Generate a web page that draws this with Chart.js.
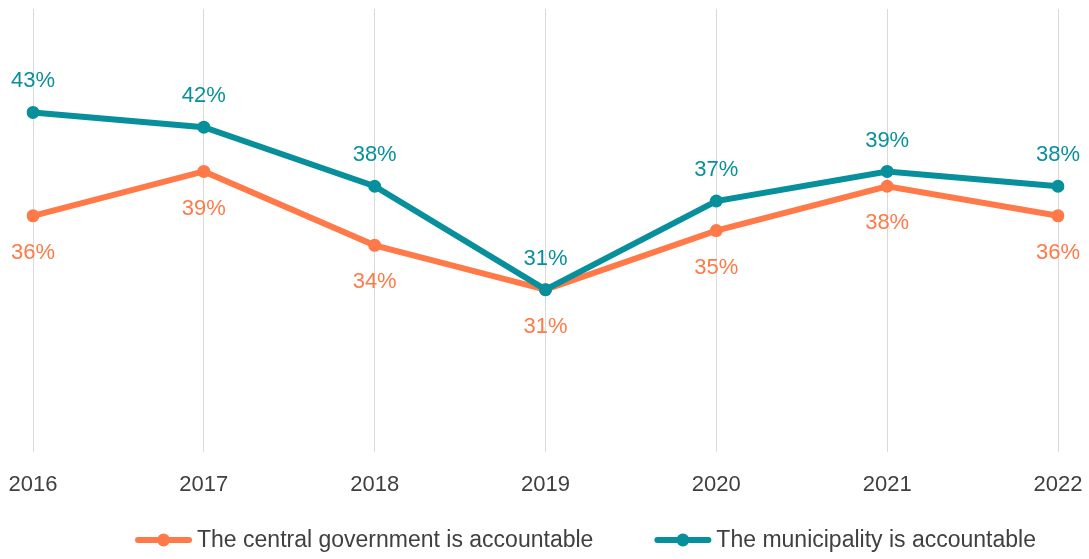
<!DOCTYPE html>
<html>
<head>
<meta charset="utf-8">
<script src="https://cdn.jsdelivr.net/npm/chart.js@4.4.1/dist/chart.umd.min.js"></script>
<style>
  html, body { margin: 0; padding: 0; background: #ffffff; }
  #wrap { width: 1089px; height: 559px; }
</style>
</head>
<body>
<div id="wrap"><canvas id="chart" width="1089" height="559"></canvas></div>
<script>
// Survey years and share of respondents (%) per answer
const years = ['2016', '2017', '2018', '2019', '2020', '2021', '2022'];
const centralGovernment = [36, 39, 34, 31, 35, 38, 36];
const municipality = [43, 42, 38, 31, 37, 39, 38];
const seriesNames = ['The central government is accountable', 'The municipality is accountable'];

const ORANGE = '#FF7A48';
const TEAL = '#07909C';
const TEXT = '#404040';
const FONT = '"Liberation Sans", Arial, Helvetica, sans-serif';

// Percentage labels next to every point (above or below, per dataset)
const valueLabels = {
  id: 'valueLabels',
  afterDatasetsDraw(chart) {
    const ctx = chart.ctx;
    ctx.save();
    ctx.font = '22px ' + FONT;
    ctx.textAlign = 'center';
    ctx.textBaseline = 'middle';
    chart.data.datasets.forEach((ds, i) => {
      const meta = chart.getDatasetMeta(i);
      ctx.fillStyle = ds.borderColor;
      meta.data.forEach((pt, j) => {
        ctx.fillText(ds.data[j] + '%', pt.x, pt.y + ds.labelOffset);
      });
    });
    ctx.restore();
  }
};

// Legend with a line-and-dot marker in front of each series name
const lineLegend = {
  id: 'lineLegend',
  afterDraw(chart, args, opts) {
    const ctx = chart.ctx;
    ctx.save();
    ctx.font = opts.fontSize + 'px ' + FONT;
    const items = chart.data.datasets.map(ds => ({
      text: ds.label,
      color: ds.borderColor,
      w: opts.markerWidth + opts.markerGap + ctx.measureText(ds.label).width
    }));
    const total = items.reduce((s, it) => s + it.w, 0) + opts.itemGap * (items.length - 1);
    let x = opts.centerX - total / 2;
    const y = opts.y;
    items.forEach(it => {
      ctx.strokeStyle = it.color;
      ctx.lineWidth = 6;
      ctx.lineCap = 'round';
      ctx.beginPath();
      ctx.moveTo(x + 3, y);
      ctx.lineTo(x + opts.markerWidth - 3, y);
      ctx.stroke();
      ctx.fillStyle = it.color;
      ctx.beginPath();
      ctx.arc(x + opts.markerWidth / 2, y, 6.5, 0, Math.PI * 2);
      ctx.fill();
      ctx.fillStyle = TEXT;
      ctx.textAlign = 'left';
      ctx.textBaseline = 'middle';
      ctx.fillText(it.text, x + opts.markerWidth + opts.markerGap, y + 1);
      x += it.w + opts.itemGap;
    });
    ctx.restore();
  }
};

new Chart(document.getElementById('chart'), {
  type: 'line',
  data: {
    labels: years,
    datasets: [
      {
        label: seriesNames[0],
        data: centralGovernment,
        borderColor: ORANGE,
        backgroundColor: ORANGE,
        pointBackgroundColor: ORANGE,
        borderWidth: 6,
        pointRadius: 6.5,
        pointBorderWidth: 0,
        tension: 0,
        order: 1,
        labelOffset: 37
      },
      {
        label: seriesNames[1],
        data: municipality,
        borderColor: TEAL,
        backgroundColor: TEAL,
        pointBackgroundColor: TEAL,
        borderWidth: 6,
        pointRadius: 6.5,
        pointBorderWidth: 0,
        tension: 0,
        order: 0,
        labelOffset: -31
      }
    ]
  },
  options: {
    responsive: false,
    animation: false,
    devicePixelRatio: 1,
    events: [],
    layout: { autoPadding: false, padding: { top: 9, left: 33, right: 31, bottom: 59 } },
    plugins: {
      legend: { display: false },
      tooltip: { enabled: false },
      lineLegend: { fontSize: 23, markerWidth: 57, markerGap: 5, itemGap: 61, centerX: 585.5, y: 540 }
    },
    scales: {
      x: {
        offset: false,
        border: { display: false },
        grid: { color: '#DADADA', lineWidth: 1, drawTicks: true, tickLength: 17.5, tickColor: 'rgba(0,0,0,0)' },
        ticks: { color: TEXT, font: { family: FONT, size: 22 }, padding: 2 }
      },
      y: {
        display: false,
        min: 20,
        max: 50
      }
    }
  },
  plugins: [valueLabels, lineLegend]
});
</script>
</body>
</html>
